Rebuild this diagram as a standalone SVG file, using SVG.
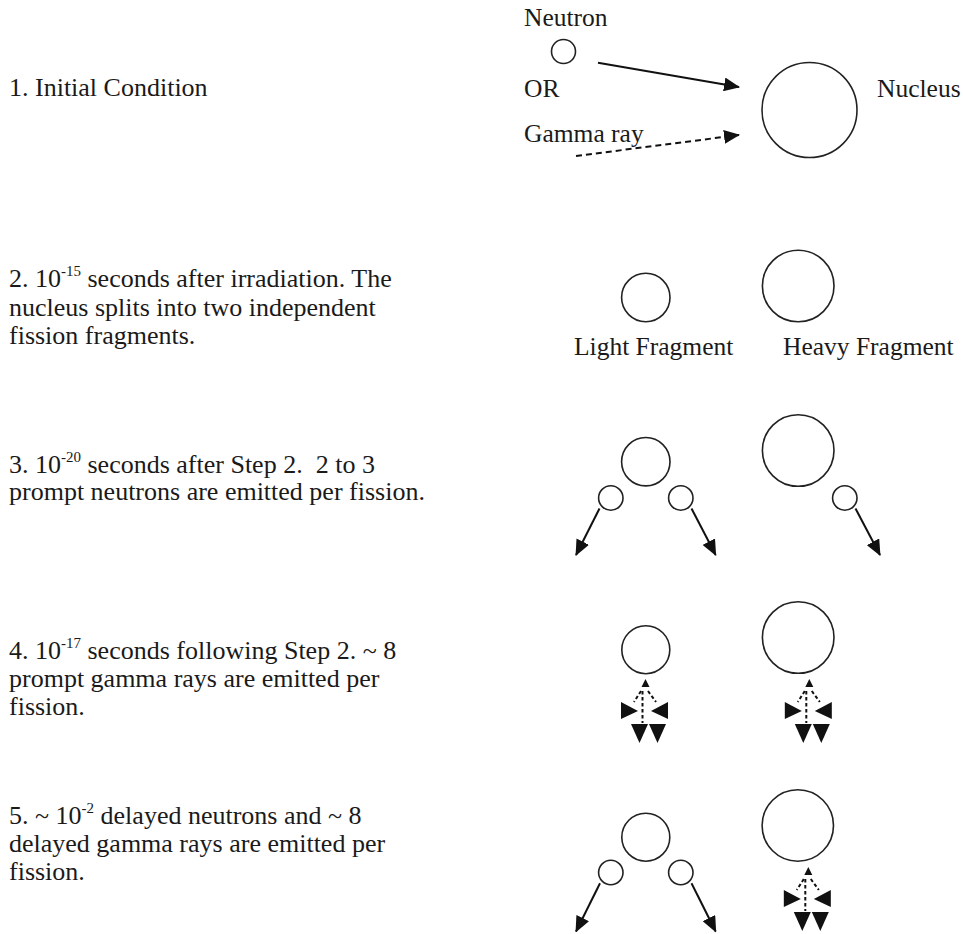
<svg xmlns="http://www.w3.org/2000/svg" width="963" height="934" viewBox="0 0 963 934">
<style>
.t{font-family:"Liberation Serif","Times New Roman",serif;font-size:25.5px;fill:#1a1a1a}
.l{font-size:26px}
.sup{font-size:15px}
.c{fill:none;stroke:#222;stroke-width:1.6}
.a{stroke:#111;stroke-width:2;fill:none}
.d{stroke:#111;stroke-width:2;fill:none;stroke-dasharray:6 4}
.bd{stroke:#111;stroke-width:2;fill:none;stroke-dasharray:3.5 2.5}
.h{fill:#111}
</style>
<defs>
<marker id="ah" viewBox="0 0 16 14" refX="15" refY="7" markerWidth="16" markerHeight="14" markerUnits="userSpaceOnUse" orient="auto">
<path d="M0,0 L16,7 L0,14 Z" fill="#111"/>
</marker>
<g id="burst">
<polygon class="h" points="1.5,-1 -2.5,7 5.5,7"/>
<line class="bd" x1="-3" y1="11" x2="-10" y2="22"/>
<line class="bd" x1="-1.5" y1="11" x2="-1.5" y2="43"/>
<line class="bd" x1="4" y1="11" x2="12" y2="22"/>
<polygon class="h" points="-23,22 -23,39 -6,31"/>
<polygon class="h" points="24,22 24,39 7,31"/>
<polygon class="h" points="-13,44 4,44 -4.5,63"/>
<polygon class="h" points="5,44 22,44 13.5,63"/>
</g>
</defs>
<rect width="963" height="934" fill="#fff"/>

<g id="labels">
<text class="t l" x="9" y="96">1. Initial Condition</text>
<text class="t l" x="9" y="287">2. 10<tspan class="sup" dy="-11">-15</tspan><tspan dy="11"> seconds after irradiation. The</tspan></text>
<text class="t l" x="9" y="315.5">nucleus splits into two independent</text>
<text class="t l" x="9" y="344">fission fragments.</text>
<text class="t l" x="9" y="472.5">3. 10<tspan class="sup" dy="-11">-20</tspan><tspan dy="11"> seconds after Step 2.&#160; 2 to 3</tspan></text>
<text class="t l" x="9" y="500">prompt neutrons are emitted per fission.</text>
<text class="t l" x="9" y="658.5">4. 10<tspan class="sup" dy="-11">-17</tspan><tspan dy="11"> seconds following Step 2. ~ 8</tspan></text>
<text class="t l" x="9" y="687">prompt gamma rays are emitted per</text>
<text class="t l" x="9" y="715">fission.</text>
<text class="t l" x="9" y="823.5">5. ~ 10<tspan class="sup" dy="-11">-2</tspan><tspan dy="11"> delayed neutrons and ~ 8</tspan></text>
<text class="t l" x="9" y="852">delayed gamma rays are emitted per</text>
<text class="t l" x="9" y="879.5">fission.</text>
<text class="t" x="524" y="26">Neutron</text>
<text class="t" x="524" y="97">OR</text>
<text class="t" x="524" y="142">Gamma ray</text>
<text class="t" x="877" y="97">Nucleus</text>
<text class="t" x="574" y="355">Light Fragment</text>
<text class="t" x="783" y="355">Heavy Fragment</text>
</g>

<g id="step1">
<g id="neutron-in"><circle class="c" cx="563.5" cy="51.5" r="12"/></g>
<g id="nucleus"><circle class="c" cx="809.5" cy="110" r="47.5"/></g>
</g>

<g id="step2">
<g id="light-fragment-2"><circle class="c" cx="645.8" cy="297.5" r="24.2"/></g>
<g id="heavy-fragment-2"><circle class="c" cx="798.2" cy="286" r="35.8"/></g>
</g>

<g id="step3">
<g id="light-fragment-3"><circle class="c" cx="645.8" cy="461.7" r="24.2"/></g>
<g id="heavy-fragment-3"><circle class="c" cx="798.2" cy="450.5" r="35.8"/></g>
<g id="neutron-3a"><circle class="c" cx="610.8" cy="498" r="12.2"/></g>
<g id="neutron-3b"><circle class="c" cx="680.8" cy="498" r="12.2"/></g>
<g id="neutron-3c"><circle class="c" cx="844.8" cy="498" r="12.2"/></g>
</g>

<g id="step4">
<g id="light-fragment-4"><circle class="c" cx="645.8" cy="649.7" r="24"/></g>
<g id="heavy-fragment-4"><circle class="c" cx="798.2" cy="637.5" r="35.8"/></g>
</g>

<g id="step5">
<g id="light-fragment-5"><circle class="c" cx="645.8" cy="837.2" r="24"/></g>
<g id="heavy-fragment-5"><circle class="c" cx="797.8" cy="825.5" r="35.7"/></g>
<g id="neutron-5a"><circle class="c" cx="610.8" cy="872.5" r="12.2"/></g>
<g id="neutron-5b"><circle class="c" cx="680.8" cy="872.5" r="12.2"/></g>
</g>

<g id="connectors">
<line class="a" x1="598" y1="62.7" x2="739" y2="87" marker-end="url(#ah)"/>
<line class="d" x1="576" y1="156" x2="739" y2="135" marker-end="url(#ah)"/>
<line class="a" x1="599.5" y1="508.5" x2="576" y2="555" marker-end="url(#ah)"/>
<line class="a" x1="691.5" y1="508.5" x2="715.7" y2="555" marker-end="url(#ah)"/>
<line class="a" x1="855.5" y1="508.5" x2="880" y2="555" marker-end="url(#ah)"/>
<line class="a" x1="600" y1="883.3" x2="576" y2="931.5" marker-end="url(#ah)"/>
<line class="a" x1="691.5" y1="883.3" x2="715.7" y2="931.5" marker-end="url(#ah)"/>
<use href="#burst" x="644" y="680"/>
<use href="#burst" x="807.8" y="680"/>
<use href="#burst" x="806.8" y="868"/>
</g>
</svg>
